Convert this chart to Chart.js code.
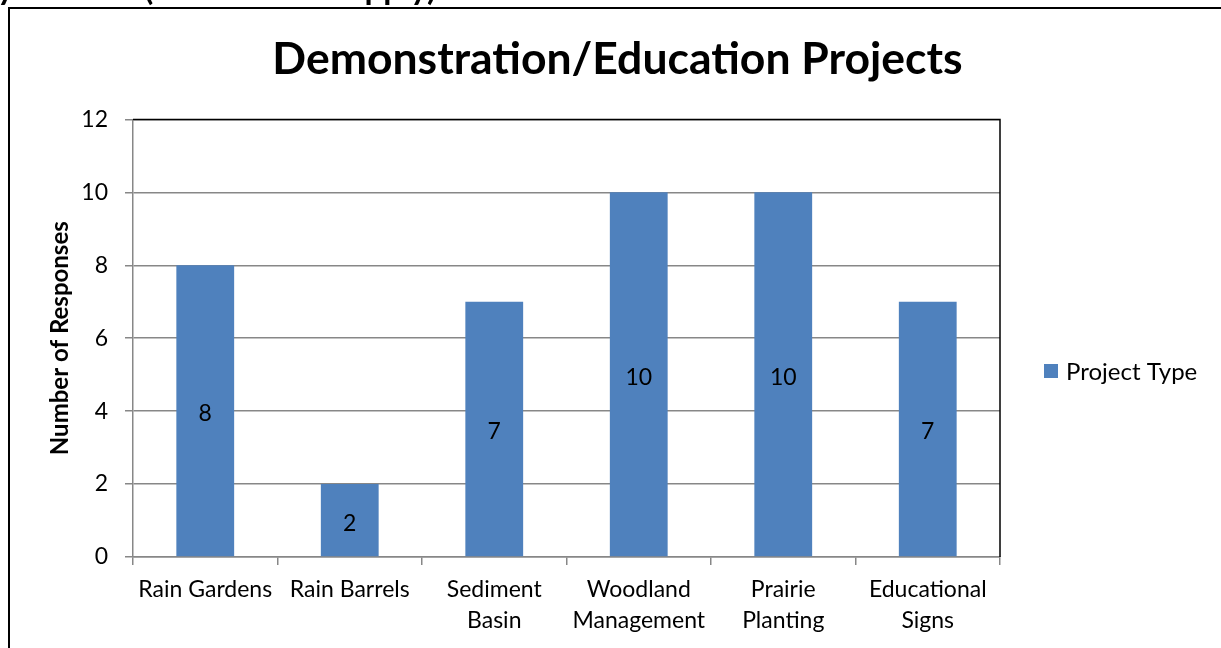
<!DOCTYPE html>
<html>
<head>
<meta charset="utf-8">
<style>
  html, body { margin: 0; padding: 0; background: #fff; }
  #wrap { position: absolute; left: 0; top: 0; width: 1221px; height: 648px; }
</style>
<script src="https://cdn.jsdelivr.net/npm/chart.js@4.4.1/dist/chart.umd.min.js"></script>
</head>
<body>
<div id="wrap"><canvas id="c" width="1221" height="648"></canvas></div>
<script>
const categories = [["Rain Gardens"], ["Rain Barrels"], ["Sediment", "Basin"], ["Woodland", "Management"], ["Prairie", "Planting"], ["Educational", "Signs"]];
const responses = [8, 2, 7, 10, 10, 7];
const seriesName = "Project Type";
const chartTitle = "Demonstration/Education Projects";
const yAxisTitle = "Number of Responses";
const headerText = "Activity Interest (Mark all that apply)";

const FONT = "Lato, 'Open Sans', sans-serif";
const BAR = "#4F81BD";
const GRID = "#878787";

const framePlugin = {
  id: 'frame',
  beforeDraw(chart) {
    const ctx = chart.ctx;
    ctx.save();
    ctx.fillStyle = '#fff';
    ctx.fillRect(0, 0, chart.width, chart.height);
    ctx.strokeStyle = '#000';
    ctx.lineWidth = 2;
    ctx.beginPath();
    ctx.moveTo(9, chart.height);
    ctx.lineTo(9, 8);
    ctx.lineTo(chart.width, 8);
    ctx.stroke();
    ctx.fillStyle = '#000';
    ctx.font = "bold 33px " + FONT;
    ctx.textAlign = 'right';
    ctx.textBaseline = 'alphabetic';
    ctx.fillText(headerText, 436, 0);
    ctx.restore();
  },
  afterDatasetsDraw(chart) {
    const ctx = chart.ctx;
    const a = chart.chartArea;
    ctx.save();
    ctx.strokeStyle = '#000';
    ctx.lineWidth = 1.5;
    ctx.beginPath();
    ctx.moveTo(a.left, a.top);
    ctx.lineTo(a.right, a.top);
    ctx.lineTo(a.right, a.bottom);
    ctx.stroke();
    const meta = chart.getDatasetMeta(0);
    ctx.fillStyle = '#000';
    ctx.font = "23px " + FONT;
    ctx.textAlign = 'center';
    ctx.textBaseline = 'middle';
    meta.data.forEach((bar, i) => {
      const v = chart.data.datasets[0].data[i];
      ctx.fillText(String(v), bar.x, (bar.y + bar.base) / 2 + 3);
    });
    const ds = chart.data.datasets[0];
    const ly = 371;
    ctx.fillStyle = ds.backgroundColor;
    ctx.fillRect(1044, ly - 7, 14, 14);
    ctx.fillStyle = '#000';
    ctx.font = "24px " + FONT;
    ctx.textAlign = 'left';
    ctx.fillText(ds.label, 1066, ly + 1);
    ctx.restore();
  }
};

new Chart(document.getElementById('c'), {
  type: 'bar',
  data: {
    labels: categories,
    datasets: [{
      label: seriesName,
      data: responses,
      backgroundColor: BAR,
      borderWidth: 0,
      barPercentage: 0.4,
      categoryPercentage: 1.0,
      yAxisID: 'y'
    }]
  },
  options: {
    responsive: false,
    animation: false,
    layout: { padding: { left: 14, right: 0, top: 0, bottom: 0 } },
    plugins: {
      legend: { display: false },
      tooltip: { enabled: false },
      title: {
        display: true,
        text: chartTitle,
        color: '#000',
        font: { family: FONT, size: 44.5, weight: 'bold', lineHeight: 1.2 },
        padding: { top: 33, bottom: 33 }
      }
    },
    scales: {
      x: {
        grid: { offset: true, drawOnChartArea: false, drawTicks: true, tickLength: 8, color: GRID, lineWidth: 1.5 },
        border: { color: GRID, width: 1.5 },
        ticks: { color: '#000', font: { family: FONT, size: 23, lineHeight: 1.35 }, padding: 9, maxRotation: 0, autoSkip: false },
        afterFit(scale) { scale.height = 91; }
      },
      y: {
        min: 0, max: 12,
        grid: { color: GRID, lineWidth: 1.5, tickLength: 8 },
        border: { color: GRID, width: 1.5 },
        ticks: { stepSize: 2, color: '#000', font: { family: FONT, size: 23 }, padding: 17 },
        title: {
          display: true,
          text: yAxisTitle,
          color: '#000',
          font: { family: FONT, size: 24, weight: 'bold', lineHeight: 1.2 },
          padding: { top: 32, bottom: 0 }
        },
        afterFit(scale) { scale.width = 119; }
      },
      side: {
        type: 'linear',
        position: 'right',
        display: true,
        grid: { display: false, drawTicks: false },
        border: { display: false },
        ticks: { display: false },
        afterFit(scale) { scale.width = 221; }
      }
    }
  },
  plugins: [framePlugin]
});
</script>
</body>
</html>
